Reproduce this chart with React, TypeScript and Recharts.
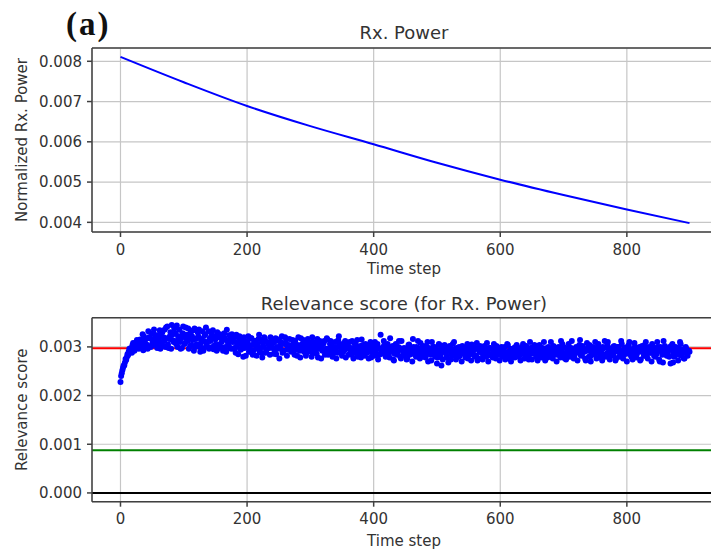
import React from 'react';
import {
  LineChart, Line, ScatterChart, Scatter, XAxis, YAxis, CartesianGrid, ReferenceLine,
} from 'recharts';

// ---- Data ----
const timeTicks = [0, 200, 400, 600, 800];
const powerTicks = [0.004, 0.005, 0.006, 0.007, 0.008];
const scoreTicks = [0.0, 0.001, 0.002, 0.003];

const powerSteps = [0, 100, 200, 300, 400, 500, 600, 700, 800, 899];
const rxPower = [0.00811, 0.00748, 0.00689, 0.00639, 0.00594, 0.00548, 0.00506, 0.00468, 0.00432, 0.00398];

const scoreStep = 3; // each array samples every 3rd time step
// relevance scores at time steps 0, 3, 6, ...
const relevanceA = [
  0.00228, 0.00252, 0.00262, 0.00273, 0.00283, 0.00293, 0.00288, 0.00300, 0.00296, 0.00305,
  0.00298, 0.00310, 0.00293, 0.00315, 0.00304, 0.00320, 0.00300, 0.00312, 0.00325, 0.00308,
  0.00318, 0.00296, 0.00330, 0.00312, 0.00340, 0.00305, 0.00322, 0.00345, 0.00310, 0.00328,
  0.00300, 0.00335, 0.00318, 0.00342, 0.00308, 0.00325, 0.00296, 0.00330, 0.00314, 0.00338,
  0.00305, 0.00322, 0.00290, 0.00332, 0.00312, 0.00340, 0.00300, 0.00318, 0.00328, 0.00295,
  0.00315, 0.00330, 0.00305, 0.00322, 0.00292, 0.00318, 0.00335, 0.00302, 0.00320, 0.00310,
  0.00298, 0.00325, 0.00285, 0.00315, 0.00305, 0.00320, 0.00282, 0.00310, 0.00300, 0.00318,
  0.00292, 0.00312, 0.00302, 0.00325, 0.00288, 0.00308, 0.00318, 0.00295, 0.00305, 0.00320,
  0.00298, 0.00310, 0.00285, 0.00315, 0.00302, 0.00322, 0.00292, 0.00308, 0.00298, 0.00316,
  0.00290, 0.00305, 0.00312, 0.00282, 0.00300, 0.00318, 0.00295, 0.00306, 0.00288, 0.00310,
  0.00300, 0.00320, 0.00292, 0.00305, 0.00278, 0.00312, 0.00298, 0.00308, 0.00290, 0.00315,
  0.00296, 0.00304, 0.00286, 0.00310, 0.00300, 0.00322, 0.00288, 0.00302, 0.00294, 0.00308,
  0.00284, 0.00298, 0.00312, 0.00290, 0.00304, 0.00280, 0.00300, 0.00315, 0.00292, 0.00306,
  0.00288, 0.00302, 0.00278, 0.00296, 0.00310, 0.00286, 0.00298, 0.00325, 0.00290, 0.00304,
  0.00282, 0.00300, 0.00318, 0.00292, 0.00272, 0.00306, 0.00288, 0.00298, 0.00312, 0.00285,
  0.00296, 0.00276, 0.00305, 0.00290, 0.00316, 0.00284, 0.00300, 0.00292, 0.00308, 0.00280,
  0.00294, 0.00302, 0.00270, 0.00288, 0.00310, 0.00285, 0.00298, 0.00278, 0.00304, 0.00262,
  0.00290, 0.00300, 0.00282, 0.00296, 0.00274, 0.00306, 0.00288, 0.00298, 0.00280, 0.00294,
  0.00302, 0.00286, 0.00296, 0.00276, 0.00292, 0.00305, 0.00284, 0.00298, 0.00272, 0.00290,
  0.00300, 0.00282, 0.00294, 0.00308, 0.00286, 0.00296, 0.00278, 0.00292, 0.00302, 0.00284,
  0.00294, 0.00280, 0.00298, 0.00288, 0.00304, 0.00276, 0.00292, 0.00285, 0.00300, 0.00290,
  0.00282, 0.00296, 0.00306, 0.00286, 0.00292, 0.00274, 0.00298, 0.00288, 0.00304, 0.00280,
  0.00294, 0.00300, 0.00284, 0.00310, 0.00290, 0.00278, 0.00296, 0.00286, 0.00302, 0.00292,
  0.00284, 0.00298, 0.00312, 0.00288, 0.00276, 0.00296, 0.00306, 0.00286, 0.00294, 0.00280,
  0.00300, 0.00290, 0.00314, 0.00284, 0.00296, 0.00272, 0.00292, 0.00304, 0.00286, 0.00298,
  0.00310, 0.00288, 0.00294, 0.00278, 0.00300, 0.00312, 0.00286, 0.00296, 0.00282, 0.00292,
  0.00302, 0.00276, 0.00294, 0.00288, 0.00306, 0.00284, 0.00298, 0.00290, 0.00310, 0.00280,
  0.00292, 0.00300, 0.00286, 0.00296, 0.00274, 0.00290, 0.00304, 0.00284, 0.00298, 0.00288,
  0.00306, 0.00282, 0.00294, 0.00300, 0.00270, 0.00290, 0.00312, 0.00286, 0.00296, 0.00280,
  0.00302, 0.00268, 0.00292, 0.00298, 0.00284, 0.00306, 0.00288, 0.00276, 0.00296, 0.00290,
];
// relevance scores at time steps 1, 4, 7, ...
const relevanceB = [
  0.00240, 0.00257, 0.00268, 0.00279, 0.00290, 0.00297, 0.00304, 0.00292, 0.00310, 0.00302,
  0.00315, 0.00300, 0.00322, 0.00306, 0.00296, 0.00318, 0.00328, 0.00304, 0.00316, 0.00298,
  0.00325, 0.00310, 0.00302, 0.00336, 0.00318, 0.00298, 0.00330, 0.00314, 0.00338, 0.00306,
  0.00322, 0.00310, 0.00298, 0.00326, 0.00340, 0.00312, 0.00320, 0.00304, 0.00334, 0.00300,
  0.00318, 0.00336, 0.00308, 0.00298, 0.00324, 0.00306, 0.00332, 0.00312, 0.00300, 0.00322,
  0.00304, 0.00296, 0.00326, 0.00310, 0.00316, 0.00300, 0.00312, 0.00324, 0.00296, 0.00318,
  0.00310, 0.00300, 0.00318, 0.00294, 0.00312, 0.00298, 0.00308, 0.00322, 0.00290, 0.00304,
  0.00312, 0.00296, 0.00306, 0.00290, 0.00314, 0.00300, 0.00288, 0.00310, 0.00298, 0.00302,
  0.00308, 0.00292, 0.00300, 0.00312, 0.00296, 0.00288, 0.00306, 0.00316, 0.00294, 0.00302,
  0.00298, 0.00310, 0.00294, 0.00304, 0.00292, 0.00300, 0.00314, 0.00288, 0.00298, 0.00306,
  0.00290, 0.00304, 0.00298, 0.00286, 0.00308, 0.00300, 0.00292, 0.00312, 0.00296, 0.00284,
  0.00306, 0.00292, 0.00300, 0.00294, 0.00288, 0.00306, 0.00298, 0.00290, 0.00312, 0.00296,
  0.00300, 0.00290, 0.00296, 0.00306, 0.00286, 0.00294, 0.00302, 0.00288, 0.00298, 0.00292,
  0.00298, 0.00292, 0.00304, 0.00288, 0.00296, 0.00306, 0.00284, 0.00292, 0.00300, 0.00290,
  0.00296, 0.00288, 0.00294, 0.00302, 0.00286, 0.00290, 0.00300, 0.00280, 0.00294, 0.00298,
  0.00288, 0.00298, 0.00284, 0.00294, 0.00300, 0.00290, 0.00282, 0.00296, 0.00286, 0.00302,
  0.00286, 0.00292, 0.00298, 0.00284, 0.00294, 0.00300, 0.00288, 0.00292, 0.00280, 0.00296,
  0.00298, 0.00288, 0.00292, 0.00302, 0.00286, 0.00294, 0.00282, 0.00290, 0.00300, 0.00286,
  0.00292, 0.00298, 0.00284, 0.00290, 0.00300, 0.00288, 0.00294, 0.00282, 0.00296, 0.00302,
  0.00288, 0.00294, 0.00286, 0.00290, 0.00298, 0.00282, 0.00292, 0.00300, 0.00286, 0.00294,
  0.00286, 0.00292, 0.00300, 0.00284, 0.00290, 0.00296, 0.00282, 0.00298, 0.00288, 0.00294,
  0.00290, 0.00300, 0.00286, 0.00294, 0.00298, 0.00284, 0.00292, 0.00300, 0.00288, 0.00296,
  0.00286, 0.00292, 0.00298, 0.00282, 0.00296, 0.00300, 0.00288, 0.00294, 0.00284, 0.00298,
  0.00292, 0.00288, 0.00296, 0.00300, 0.00284, 0.00290, 0.00294, 0.00298, 0.00282, 0.00296,
  0.00288, 0.00296, 0.00284, 0.00302, 0.00290, 0.00294, 0.00300, 0.00280, 0.00292, 0.00298,
  0.00294, 0.00300, 0.00286, 0.00292, 0.00298, 0.00284, 0.00304, 0.00290, 0.00296, 0.00300,
  0.00290, 0.00296, 0.00300, 0.00284, 0.00292, 0.00298, 0.00286, 0.00302, 0.00294, 0.00288,
  0.00298, 0.00286, 0.00294, 0.00300, 0.00290, 0.00296, 0.00282, 0.00292, 0.00300, 0.00294,
  0.00290, 0.00298, 0.00286, 0.00294, 0.00300, 0.00284, 0.00292, 0.00296, 0.00288, 0.00300,
  0.00294, 0.00286, 0.00300, 0.00290, 0.00296, 0.00282, 0.00294, 0.00298, 0.00288, 0.00292,
];
// relevance scores at time steps 2, 5, 8, ...
const relevanceC = [
  0.00246, 0.00262, 0.00275, 0.00285, 0.00296, 0.00290, 0.00308, 0.00300, 0.00314, 0.00296,
  0.00306, 0.00326, 0.00312, 0.00298, 0.00332, 0.00318, 0.00306, 0.00336, 0.00320, 0.00300,
  0.00334, 0.00308, 0.00320, 0.00300, 0.00342, 0.00316, 0.00296, 0.00326, 0.00312, 0.00344,
  0.00314, 0.00296, 0.00328, 0.00306, 0.00318, 0.00338, 0.00302, 0.00322, 0.00292, 0.00316,
  0.00330, 0.00300, 0.00316, 0.00292, 0.00326, 0.00310, 0.00296, 0.00320, 0.00334, 0.00304,
  0.00292, 0.00320, 0.00300, 0.00314, 0.00328, 0.00290, 0.00308, 0.00298, 0.00326, 0.00296,
  0.00288, 0.00306, 0.00322, 0.00296, 0.00280, 0.00312, 0.00300, 0.00290, 0.00318, 0.00284,
  0.00306, 0.00282, 0.00316, 0.00298, 0.00278, 0.00320, 0.00290, 0.00308, 0.00284, 0.00312,
  0.00286, 0.00318, 0.00296, 0.00276, 0.00310, 0.00290, 0.00320, 0.00282, 0.00304, 0.00294,
  0.00314, 0.00284, 0.00296, 0.00320, 0.00278, 0.00306, 0.00290, 0.00282, 0.00316, 0.00294,
  0.00280, 0.00310, 0.00288, 0.00316, 0.00296, 0.00276, 0.00306, 0.00284, 0.00318, 0.00292,
  0.00312, 0.00280, 0.00296, 0.00276, 0.00314, 0.00290, 0.00282, 0.00308, 0.00278, 0.00300,
  0.00310, 0.00284, 0.00276, 0.00298, 0.00314, 0.00288, 0.00278, 0.00304, 0.00282, 0.00296,
  0.00276, 0.00310, 0.00288, 0.00282, 0.00304, 0.00274, 0.00296, 0.00286, 0.00312, 0.00280,
  0.00306, 0.00278, 0.00290, 0.00274, 0.00300, 0.00284, 0.00312, 0.00276, 0.00292, 0.00282,
  0.00274, 0.00304, 0.00288, 0.00270, 0.00298, 0.00280, 0.00312, 0.00276, 0.00290, 0.00300,
  0.00278, 0.00310, 0.00286, 0.00272, 0.00300, 0.00280, 0.00266, 0.00306, 0.00284, 0.00274,
  0.00304, 0.00278, 0.00268, 0.00300, 0.00284, 0.00310, 0.00274, 0.00292, 0.00282, 0.00270,
  0.00296, 0.00278, 0.00306, 0.00284, 0.00272, 0.00300, 0.00280, 0.00308, 0.00276, 0.00290,
  0.00274, 0.00302, 0.00280, 0.00270, 0.00298, 0.00284, 0.00306, 0.00276, 0.00288, 0.00272,
  0.00300, 0.00282, 0.00274, 0.00306, 0.00286, 0.00270, 0.00296, 0.00278, 0.00304, 0.00280,
  0.00272, 0.00290, 0.00276, 0.00302, 0.00280, 0.00310, 0.00274, 0.00286, 0.00296, 0.00272,
  0.00304, 0.00278, 0.00290, 0.00272, 0.00298, 0.00282, 0.00310, 0.00276, 0.00288, 0.00270,
  0.00300, 0.00278, 0.00306, 0.00282, 0.00274, 0.00296, 0.00280, 0.00312, 0.00276, 0.00290,
  0.00272, 0.00304, 0.00282, 0.00294, 0.00276, 0.00308, 0.00280, 0.00270, 0.00300, 0.00284,
  0.00276, 0.00306, 0.00286, 0.00272, 0.00298, 0.00280, 0.00310, 0.00274, 0.00292, 0.00282,
  0.00272, 0.00300, 0.00280, 0.00312, 0.00276, 0.00290, 0.00270, 0.00304, 0.00284, 0.00274,
  0.00308, 0.00278, 0.00296, 0.00272, 0.00302, 0.00282, 0.00310, 0.00276, 0.00288, 0.00270,
  0.00298, 0.00280, 0.00310, 0.00274, 0.00292, 0.00268, 0.00302, 0.00282, 0.00296, 0.00266,
  0.00306, 0.00280, 0.00294, 0.00272, 0.00310, 0.00284, 0.00276, 0.00300, 0.00282, 0.00290,
];

const meanLevel = 0.00297;
const thresholdLevel = 0.000877;
const zeroLevel = 0.0;

const xDomain = [-45, 944];
const powerDomain = [0.00376, 0.00833];
const scoreDomain = [-0.00018, 0.0036];

const powerData = powerSteps.map((t, i) => ({ t, v: rxPower[i] }));
const scoreData = [
  ...relevanceA.map((v, i) => ({ t: i * scoreStep, v })),
  ...relevanceB.map((v, i) => ({ t: i * scoreStep + 1, v })),
  ...relevanceC.map((v, i) => ({ t: i * scoreStep + 2, v })),
];

const FONT = '"DejaVu Sans", sans-serif';
const TXT = '#333';
const SPINE = '#404040';
const GRID = '#c6c6c6';
const tickStyle = { fill: TXT, fontSize: 15, fontFamily: FONT };

const Dot = (p: any) => <circle cx={p.cx} cy={p.cy} r={3} fill="#0000ff" />;

export default function App() {
  return (
    <div style={{ position: 'absolute', left: 0, top: 0, width: 711, height: 551, overflow: 'hidden', background: '#fff' }}>
      <div style={{ position: 'absolute', left: 0, top: 0 }}>
        <LineChart width={720} height={280} data={powerData} margin={{ top: 48, right: 2, left: 32, bottom: 0 }}>
          <CartesianGrid stroke={GRID} strokeWidth={1.2} />
          <XAxis dataKey="t" type="number" domain={xDomain} ticks={timeTicks} allowDataOverflow height={48}
            tick={tickStyle} tickMargin={7} tickSize={5} stroke={SPINE} strokeWidth={1.5} />
          <YAxis type="number" domain={powerDomain} ticks={powerTicks} allowDataOverflow width={60}
            tick={tickStyle} tickMargin={5} tickSize={5} stroke={SPINE} strokeWidth={1.5}
            tickFormatter={(v: number) => v.toFixed(3)} />
          <ReferenceLine y={powerDomain[1]} stroke={SPINE} strokeWidth={1.5} />
          <Line dataKey="v" type="monotone" stroke="#0000ff" strokeWidth={2} dot={false} isAnimationActive={false} />
        </LineChart>
      </div>
      <div style={{ position: 'absolute', left: 0, top: 270 }}>
        <ScatterChart width={720} height={281} margin={{ top: 47.7, right: 2, left: 32, bottom: 0 }}>
          <CartesianGrid stroke={GRID} strokeWidth={1.2} />
          <XAxis dataKey="t" type="number" domain={xDomain} ticks={timeTicks} allowDataOverflow height={49.3}
            tick={tickStyle} tickMargin={7} tickSize={5} stroke={SPINE} strokeWidth={1.5} />
          <YAxis dataKey="v" type="number" domain={scoreDomain} ticks={scoreTicks} allowDataOverflow width={60}
            tick={tickStyle} tickMargin={5} tickSize={5} stroke={SPINE} strokeWidth={1.5}
            tickFormatter={(v: number) => v.toFixed(3)} />
          <ReferenceLine y={scoreDomain[1]} stroke={SPINE} strokeWidth={1.5} />
          <ReferenceLine y={thresholdLevel} stroke="#008000" strokeWidth={2} />
          <ReferenceLine y={zeroLevel} stroke="#000" strokeWidth={2} />
          <Scatter data={scoreData} shape={Dot} isAnimationActive={false} />
          <ReferenceLine y={meanLevel} stroke="#ff0000" strokeWidth={2} />
        </ScatterChart>
      </div>
      <svg width={711} height={551} style={{ position: 'absolute', left: 0, top: 0, pointerEvents: 'none' }}>
        <text x={66} y={35} fontFamily='"Liberation Serif", serif' fontWeight="bold" fontSize={33} letterSpacing={2} fill="#111">(a)</text>
        <text x={404} y={39.3} textAnchor="middle" fontFamily={FONT} fontSize={18} fill={TXT}>Rx. Power</text>
        <text x={404} y={274.3} textAnchor="middle" fontFamily={FONT} fontSize={15} fill={TXT}>Time step</text>
        <text transform="translate(27,140) rotate(-90)" textAnchor="middle" fontFamily={FONT} fontSize={15} fill={TXT}>Normalized Rx. Power</text>
        <text x={404} y={309.6} textAnchor="middle" fontFamily={FONT} fontSize={18} fill={TXT}>Relevance score (for Rx. Power)</text>
        <text x={404} y={546} textAnchor="middle" fontFamily={FONT} fontSize={15} fill={TXT}>Time step</text>
        <text transform="translate(27,409.7) rotate(-90)" textAnchor="middle" fontFamily={FONT} fontSize={15} fill={TXT}>Relevance score</text>
      </svg>
    </div>
  );
}
